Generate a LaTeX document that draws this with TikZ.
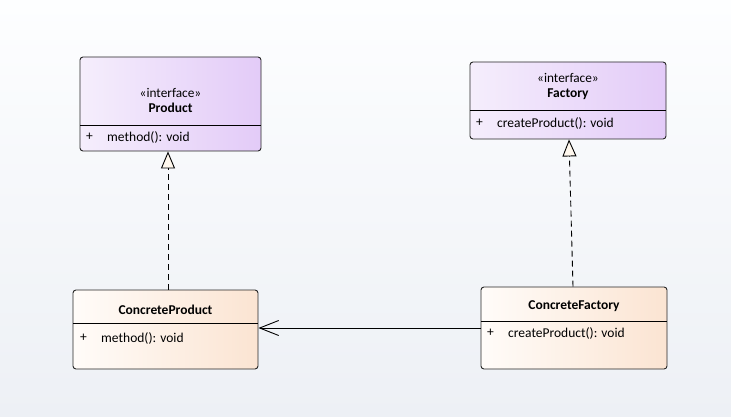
\documentclass[tikz,border=0pt]{standalone}
\usepackage{fontspec}
\setmainfont{Carlito}
\usetikzlibrary{arrows.meta,calc,positioning}

\definecolor{ifaceL}{HTML}{F5EEFC}
\definecolor{ifaceR}{HTML}{E3CBF8}
\definecolor{concL}{HTML}{FFFCF9}
\definecolor{concR}{HTML}{FBE4D2}
\definecolor{tipfill}{HTML}{FFF8EE}
\definecolor{bgtop}{HTML}{FDFEFF}
\definecolor{bgbot}{HTML}{EDF0F5}

\tikzset{
	iface/.style={draw=black!85, line width=0.9pt, rounded corners=3pt, left color=ifaceL, right color=ifaceR},
	concrete/.style={draw=black!85, line width=0.9pt, rounded corners=3pt, left color=concL, right color=concR},
	member/.style={anchor=west, font=\fontsize{13.5}{15}\selectfont, inner sep=0pt},
	title/.style={font=\fontsize{13.5}{15}\selectfont\bfseries, inner sep=0pt},
	stereo/.style={font=\fontsize{13.3}{15}\selectfont, inner sep=0pt},
	realize/.style={line width=0.9pt, dash pattern=on 6pt off 4pt, -{Triangle[length=17pt, width=14pt, fill=tipfill, line width=0.9pt]}},
	assoc/.style={line width=0.9pt, -{Straight Barb[length=19pt, width=15pt, line width=0.9pt]}}
}

\begin{document}
\begin{tikzpicture}[x=1pt, y=-1pt]
	\shade[top color=bgtop, bottom color=bgbot] (0,0) rectangle (731,417);
	\useasboundingbox (0,0) rectangle (731,417);

	% interfaces
	\node[iface, minimum width=181pt, minimum height=94pt] (product) at (170.5,104) {};
	\draw[line width=0.9pt] (80,125) -- (261,125);
	\node[stereo] (productstereo) at (170.5,93) {«interface»};
	\node[title] (producttitle) at (170.5,108) {Product};
	\node[member] (productplus) at (86,137) {+};
	\node[member] (productop) at (107,137) {method(): void};

	\node[iface, minimum width=196pt, minimum height=77pt] (factory) at (568,100.5) {};
	\draw[line width=0.9pt] (470,110) -- (666,110);
	\node[stereo] (factorystereo) at (568,78) {«interface»};
	\node[title] (factorytitle) at (568,94) {Factory};
	\node[member] (factoryplus) at (476,123) {+};
	\node[member] (factoryop) at (497,123) {createProduct(): void};

	% concrete classes
	\node[concrete, minimum width=185pt, minimum height=79pt] (cproduct) at (165.5,329.5) {};
	\draw[line width=0.9pt] (73,323) -- (258,323);
	\node[title] (cproducttitle) at (165.5,310) {ConcreteProduct};
	\node[member] (cproductplus) at (80,338) {+};
	\node[member] (cproductop) at (101,338) {method(): void};

	\node[concrete, minimum width=186pt, minimum height=82pt] (cfactory) at (574,328) {};
	\draw[line width=0.9pt] (481,321) -- (667,321);
	\node[title] (cfactorytitle) at (574,306) {ConcreteFactory};
	\node[member] (cfactoryplus) at (487,333) {+};
	\node[member] (cfactoryop) at (508,333) {createProduct(): void};

	% relations
	\draw[realize] ($(cproduct.north)+(2.5,0)$) -- ($(product.south)+(-2.5,0)$);
	\draw[realize] ($(cfactory.north)+(-1,0)$) -- ($(factory.south)+(1,0)$);
	\draw[assoc] (cfactory.west) -- (cproduct.east |- cfactory.west);
\end{tikzpicture}
\end{document}
